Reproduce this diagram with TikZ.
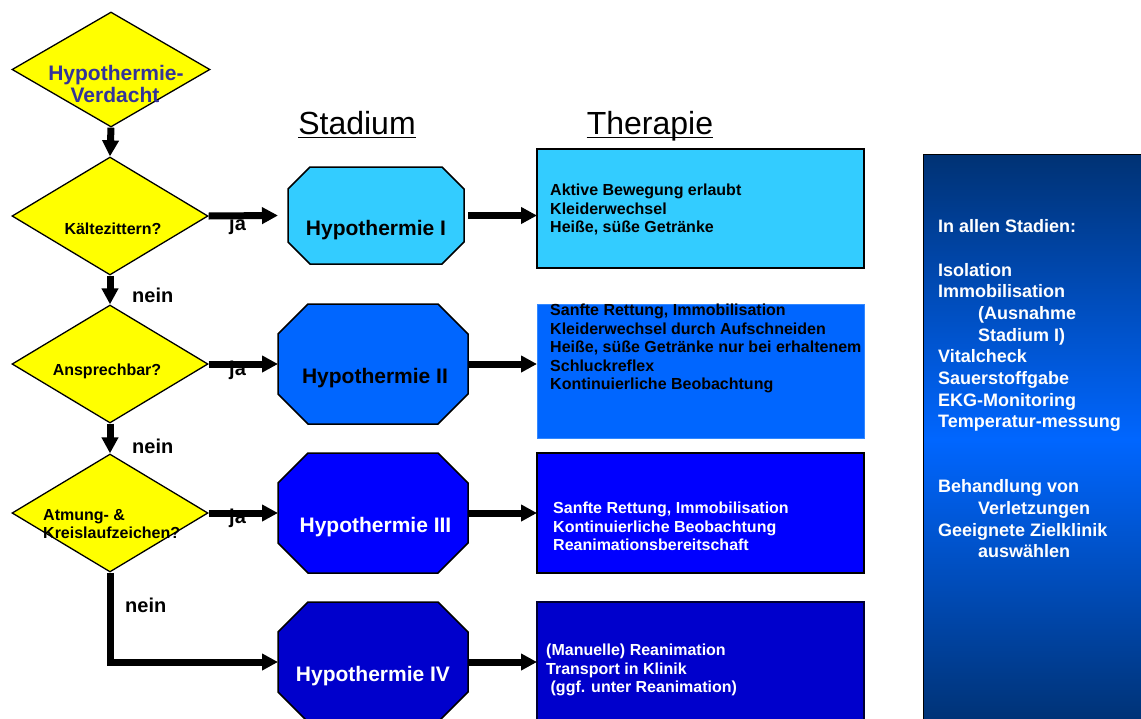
\documentclass[tikz,border=0pt]{standalone}
\usepackage{fontspec}
\setmainfont{Liberation Sans}
\usetikzlibrary{shapes.geometric,arrows.meta}
\definecolor{dia}{HTML}{FFFF00}
\definecolor{dtext}{HTML}{333399}
\definecolor{cI}{HTML}{33CCFF}
\definecolor{cII}{HTML}{0066FF}
\definecolor{cIIb}{HTML}{3388FF}
\definecolor{cIII}{HTML}{0000FF}
\definecolor{cIV}{HTML}{0000CC}
\definecolor{pnlA}{HTML}{003274}
\definecolor{pnlB}{HTML}{0066FF}
\newcommand\octa[3]{%
  \filldraw[line width=1.5pt, fill=#3, line join=miter]
    ([xshift=#2]#1.north west) -- ([xshift=-#2]#1.north east)
    -- ([yshift=-#2]#1.north east) -- ([yshift=#2]#1.south east)
    -- ([xshift=-#2]#1.south east) -- ([xshift=#2]#1.south west)
    -- ([yshift=#2]#1.south west) -- ([yshift=-#2]#1.north west) -- cycle;}
\begin{document}
\begin{tikzpicture}[x=1pt,y=-1pt,
  dec/.style={diamond, draw=black, line width=1.3pt, fill=dia, inner sep=0pt,
    minimum width=196pt, minimum height=118pt},
  lbl/.style={inner sep=0pt, font=\bfseries\fontsize{16}{18}\selectfont},
  dlbl/.style={inner sep=0pt, text=dtext, font=\bfseries\fontsize{21}{24}\selectfont},
  olbl/.style={inner sep=0pt, font=\bfseries\fontsize{21}{24}\selectfont},
  yn/.style={inner sep=0pt, font=\bfseries\fontsize{20}{24}\selectfont},
  ttl/.style={inner sep=0pt, font=\fontsize{32}{38}\selectfont},
  obox/.style={rectangle, inner sep=0pt, outer sep=0pt, minimum width=190pt, minimum height=120pt},
  tbox/.style={rectangle, inner sep=0pt, outer sep=0pt, minimum width=327pt, minimum height=120pt},
  ttext/.style={inner sep=0pt, anchor=north west, align=left, font=\bfseries\fontsize{16}{18.4}\selectfont},
  ptext/.style={inner sep=0pt, anchor=north west, align=left, text=white, font=\bfseries\fontsize{18}{21.67}\selectfont},
  arr/.style={line width=7pt, line join=miter, -{Triangle[length=16pt,width=16pt]}}
]
\useasboundingbox (0,0) rectangle (1141,718);
\fill[white] (0,0) rectangle (1141,718);

% right panel
\node[rectangle, draw=black, line width=1pt, top color=pnlA, bottom color=pnlA, middle color=pnlB,
      minimum width=227pt, minimum height=571pt, inner sep=0pt] (pnl) at (1036.5,439.5) {};
\node[ptext] (ptx) at (938,219.5) {In allen Stadien:\\[21.67pt]Isolation\\Immobilisation\\\hspace*{40pt}(Ausnahme\\\hspace*{40pt}Stadium I)\\Vitalcheck\\Sauerstoffgabe\\EKG-Monitoring\\Temperatur-messung\\[43.33pt]Behandlung von\\\hspace*{40pt}Verletzungen\\Geeignete Zielklinik\\\hspace*{40pt}auswählen};

% titles
\node[ttl, anchor=base] (st) at (357,134) {Stadium};
\node[ttl, anchor=base] (th) at (650,134) {Therapie};
\draw[line width=1.4pt] ([yshift=-3.7pt]st.base west) -- ([yshift=-3.7pt]st.base east);
\draw[line width=1.4pt] ([yshift=-3.7pt]th.base west) -- ([yshift=-3.7pt]th.base east);

% diamonds
\node[dec, minimum width=198pt, minimum height=115pt] (d1) at (111,69.5) {};
\node[dec] (d2) at (110,216) {};
\node[dec] (d3) at (110,364) {};
\node[dec] (d4) at (110,513) {};
\node[dlbl, anchor=base] (d1a) at (116,80) {Hypothermie-};
\node[dlbl, anchor=base] (d1b) at (115,102) {Verdacht};
\node[lbl, anchor=base] (d2t) at (113,234) {Kältezittern?};
\node[lbl, anchor=base] (d3t) at (107,375) {Ansprechbar?};
\node[lbl, anchor=base west] (d4a) at (43,520) {Atmung- \&};
\node[lbl, anchor=base west] (d4b) at (43,538) {Kreislaufzeichen?};

% octagons
\node[obox, minimum width=176pt, minimum height=97pt] (o1) at (376,215.5) {};
\octa{o1}{22pt}{cI}
\node[obox] (o2) at (373,364) {};
\octa{o2}{30pt}{cII}
\node[obox] (o3) at (373,513) {};
\octa{o3}{30pt}{cIII}
\node[obox] (o4) at (373,662) {};
\octa{o4}{30pt}{cIV}
\node[olbl, anchor=base] (o1t) at (376,235) {Hypothermie I};
\node[olbl, anchor=base] (o2t) at (375,383) {Hypothermie II};
\node[olbl, anchor=base, text=white] (o3t) at (375.5,532) {Hypothermie III};
\node[olbl, anchor=base, text=white] (o4t) at (373,681) {Hypothermie IV};

% therapy boxes
\node[tbox, draw=black, line width=1.5pt, fill=cI, minimum height=119pt] (b1) at (700.5,208.5) {};
\node[tbox, draw=cIIb, line width=1pt, fill=cII, minimum height=134pt] (b2) at (700.5,371) {};
\node[tbox, draw=black, line width=1.2pt, fill=cIII] (b3) at (700.5,513) {};
\node[tbox, draw=black!80!blue, line width=1.2pt, fill=cIV] (b4) at (700.5,662) {};
\node[ttext] (b1t) at (550,184) {Aktive Bewegung erlaubt\\Kleiderwechsel\\Heiße, süße Getränke};
\node[ttext] (b2t) at (550,304) {Sanfte Rettung, Immobilisation\\Kleiderwechsel durch Aufschneiden\\Heiße, süße Getränke nur bei erhaltenem\\Schluckreflex\\Kontinuierliche Beobachtung};
\node[ttext, text=white] (b3t) at (553,502) {Sanfte Rettung, Immobilisation\\Kontinuierliche Beobachtung\\Reanimationsbereitschaft};
\node[ttext, text=white] (b4t) at (546,644) {(Manuelle) Reanimation\\Transport in Klinik\\\ (ggf. unter Reanimation)};

% ja / nein labels
\node[yn, anchor=base west] (ja1) at (229,230) {ja};
\node[yn, anchor=base west] (ja2) at (229,375) {ja};
\node[yn, anchor=base west] (ja3) at (229,523) {ja};
\node[yn, anchor=base west] (n1) at (132,302) {nein};
\node[yn, anchor=base west] (n2) at (132,453) {nein};
\node[yn, anchor=base west] (n3) at (125,612) {nein};

% connectors
\draw[arr] (d1.south) -- (d2.north);
\draw[arr] (d2.south) -- (d3.north);
\draw[arr] (d3.south) -- (d4.north);
\draw[arr] (d4.south) |- (o4.west);
\draw[arr] (d2.east) -- ([xshift=-10pt]o1.west);
\draw[arr] (d3.east) -- (o2.west);
\draw[arr] (d4.east) -- (o3.west);
\draw[arr] ([xshift=4pt]o1.east) -- (b1.west |- o1.east);
\draw[arr] (o2.east) -- (b2.west |- o2.east);
\draw[arr] (o3.east) -- (b3.west);
\draw[arr] (o4.east) -- (b4.west);
\end{tikzpicture}
\end{document}
